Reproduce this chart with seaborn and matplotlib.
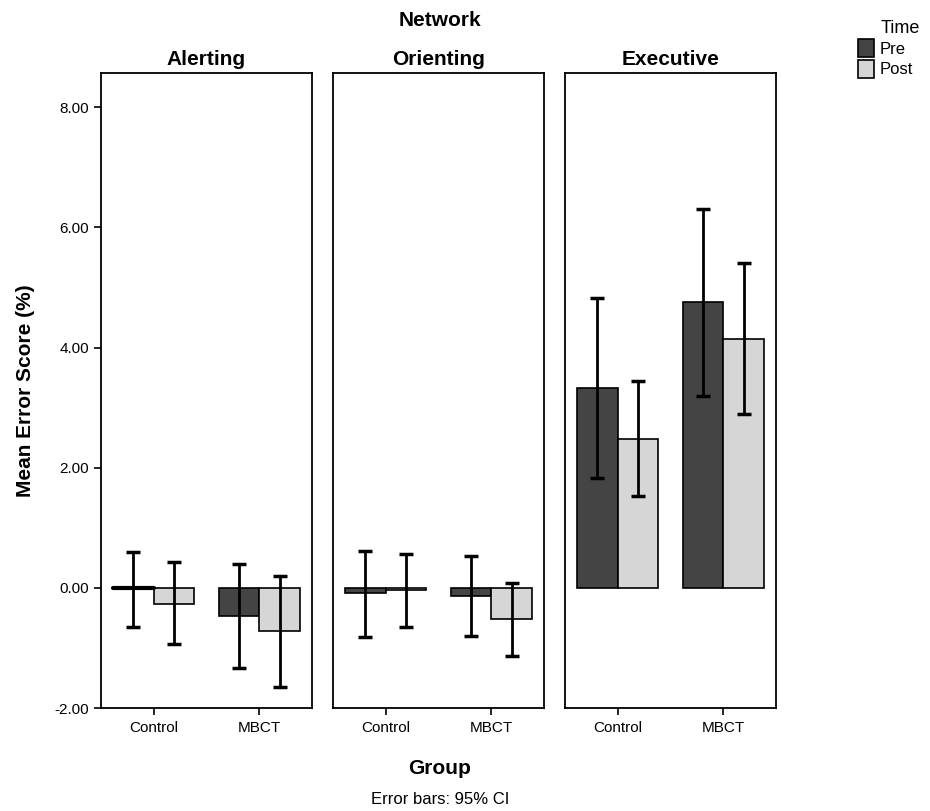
import pandas as pd
import seaborn as sns
import matplotlib.pyplot as plt
from matplotlib.patches import Patch

networks = ['Alerting', 'Orienting', 'Executive']
groups = ['Control', 'MBCT']
times = ['Pre', 'Post']

# mean error score (%) per network, group, time (Pre, Post)
alerting_means = [0.00, -0.27, -0.47, -0.72]
orienting_means = [-0.09, -0.03, -0.13, -0.52]
executive_means = [3.32, 2.47, 4.75, 4.14]

# 95% CI bounds, same order
alerting_lo = [-0.66, -0.94, -1.34, -1.65]
alerting_hi = [0.60, 0.43, 0.39, 0.20]
orienting_lo = [-0.82, -0.66, -0.80, -1.14]
orienting_hi = [0.62, 0.57, 0.53, 0.08]
executive_lo = [1.83, 1.53, 3.20, 2.89]
executive_hi = [4.82, 3.44, 6.30, 5.41]

rows = []
for net, m, lo, hi in [('Alerting', alerting_means, alerting_lo, alerting_hi),
                       ('Orienting', orienting_means, orienting_lo, orienting_hi),
                       ('Executive', executive_means, executive_lo, executive_hi)]:
    i = 0
    for g in groups:
        for t in times:
            rows.append({'Network': net, 'Group': g, 'Time': t,
                         'mean': m[i], 'lo': lo[i], 'hi': hi[i]})
            i += 1
df = pd.DataFrame(rows)

sns.set_style('white')
plt.rcParams['font.family'] = ['Liberation Sans', 'DejaVu Sans']
plt.rcParams['text.color'] = 'black'
plt.rcParams['axes.labelcolor'] = 'black'
plt.rcParams['xtick.color'] = 'black'
plt.rcParams['ytick.color'] = 'black'

colors = {'Pre': '#444444', 'Post': '#d6d6d6'}

fig = plt.figure(figsize=(9.3, 8.11), dpi=100)
panel_w = 211 / 930
gap = 21 / 930
left0 = 101 / 930
bottom = 1 - 708 / 811
height = (708 - 73) / 811

for k, net in enumerate(networks):
    ax = fig.add_axes([left0 + k * (panel_w + gap), bottom, panel_w, height])
    sub = df[df['Network'] == net]
    sns.barplot(data=sub, x='Group', y='mean', hue='Time', order=groups,
                hue_order=times, palette=colors, errorbar=None, width=0.77,
                edgecolor='black', linewidth=1.2, ax=ax, legend=False)
    # error bars, placed at bar centres
    for patch_idx, t in enumerate(times):
        bars = ax.containers[patch_idx]
        for gi, g in enumerate(groups):
            r = sub[(sub['Group'] == g) & (sub['Time'] == t)].iloc[0]
            bar = bars[gi]
            xc = bar.get_x() + bar.get_width() / 2
            if r['mean'] == 0:
                ax.plot([bar.get_x(), bar.get_x() + bar.get_width()], [0, 0],
                        color='black', lw=3)
            ax.errorbar(xc, r['mean'], yerr=[[r['mean'] - r['lo']], [r['hi'] - r['mean']]],
                        fmt='none', ecolor='black', elinewidth=2, capsize=5, capthick=2.5)
    ax.set_xlim(-0.5, 1.5)
    ax.set_ylim(-2.0, 8.57)
    ax.set_title(net, fontsize=15, fontweight='bold', pad=6)
    ax.set_xlabel('')
    for s in ax.spines.values():
        s.set_linewidth(1.3)
        s.set_color('black')
    ax.tick_params(axis='x', length=5, width=1.2, direction='out', bottom=True,
                   labelsize=11, pad=4)
    if k == 0:
        ax.set_yticks([-2, 0, 2, 4, 6, 8])
        ax.set_yticklabels(['-2.00', '0.00', '2.00', '4.00', '6.00', '8.00'])
        ax.tick_params(axis='y', length=5, width=1.2, direction='out', left=True,
                       labelsize=11)
        ax.set_ylabel('Mean Error Score (%)', fontsize=15, fontweight='bold', labelpad=14)
    else:
        ax.set_yticks([])
        ax.set_ylabel('')

fig.text(0.473, 1 - 20 / 811, 'Network', ha='center', va='center',
         fontsize=15, fontweight='bold')
fig.text(0.473, 1 - 768 / 811, 'Group', ha='center', va='center',
         fontsize=15, fontweight='bold')
fig.text(0.473, 1 - 800 / 811, 'Error bars: 95% CI', ha='center', va='center',
         fontsize=12)

handles = [Patch(facecolor=colors[t], edgecolor='black', linewidth=1.2, label=t)
           for t in times]
leg = fig.legend(handles=handles, title='Time', loc='upper left',
                 bbox_to_anchor=(846 / 930, 1 - 8 / 811), frameon=False,
                 fontsize=12, title_fontsize=13, handlelength=1.0, handleheight=1.3,
                 handletextpad=0.3, labelspacing=0.15, borderpad=0.2)
leg.get_title().set_position((15, 0))

fig.savefig('out.png', dpi=100)
